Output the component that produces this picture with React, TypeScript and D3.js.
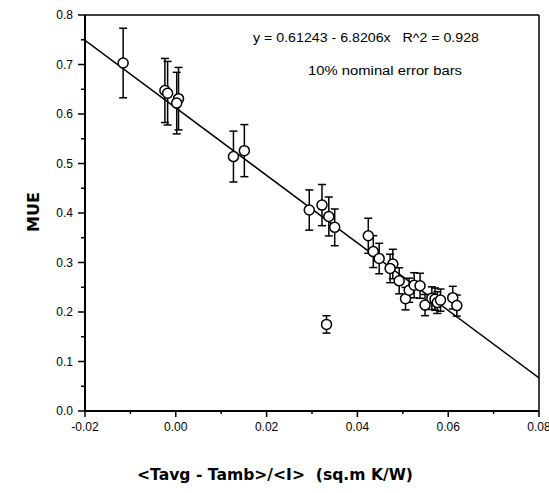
import React from "react";
import * as d3 from "d3";

const xValues = [
  -0.0116, -0.0024, -0.0018, 0.0006, 0.0002, 0.0127, 0.0151, 0.0294, 0.0322, 0.0337,
  0.035, 0.0332, 0.0424, 0.0435, 0.0448, 0.0478, 0.0472, 0.0492, 0.0506, 0.0514,
  0.0525, 0.0538, 0.0549, 0.0564, 0.0571, 0.0576, 0.0583, 0.061, 0.0619,
];
const yValues = [
  0.703, 0.6475, 0.642, 0.631, 0.622, 0.514, 0.526, 0.406, 0.416, 0.393,
  0.371, 0.175, 0.354, 0.322, 0.308, 0.297, 0.288, 0.263, 0.227, 0.244,
  0.254, 0.253, 0.214, 0.228, 0.226, 0.219, 0.224, 0.229, 0.213,
];
const xTicks = [-0.02, 0.0, 0.02, 0.04, 0.06, 0.08];
const yTicks = [0.0, 0.1, 0.2, 0.3, 0.4, 0.5, 0.6, 0.7, 0.8];
const fitIntercept = 0.61243;
const fitSlope = -6.8206;
const errorFraction = 0.1;

const W = 549;
const H = 493;
const left = 85;
const right = 539;
const top = 15;
const bottom = 411;

export default function App() {
  const x = d3.scaleLinear().domain([-0.02, 0.08]).range([left, right]);
  const y = d3.scaleLinear().domain([0, 0.8]).range([bottom, top]);
  const font = "'Liberation Sans', Arial, sans-serif";
  const boldFont = "'DejaVu Sans', 'Liberation Sans', sans-serif";

  const xMinor = d3.range(-0.01, 0.08, 0.02);
  const yMinor = d3.range(0.05, 0.8, 0.1);

  const fit = (v: number) => fitIntercept + fitSlope * v;
  const line = d3
    .line<number>()
    .x((v) => x(v))
    .y((v) => y(fit(v)));

  return (
    <svg
      width={W}
      height={H}
      style={{ position: "absolute", left: 0, top: 0, background: "#fff" }}
      fontFamily={font}
    >
      <defs>
        <clipPath id="plotClip">
          <rect x={left} y={top} width={right - left} height={bottom - top} />
        </clipPath>
      </defs>
      <rect x={0} y={0} width={W} height={H} fill="#fff" />

      {/* frame */}
      <line x1={left} x2={right} y1={top} y2={top} stroke="#000" strokeWidth={1.5} />
      <line x1={right} x2={right} y1={top} y2={bottom} stroke="#000" strokeWidth={1.5} />

      {/* fit line */}
      <path
        d={line([-0.02, 0.08]) || ""}
        fill="none"
        stroke="#000"
        strokeWidth={1.5}
        clipPath="url(#plotClip)"
      />

      {/* error bars & points */}
      {xValues.map((xv, i) => {
        const yv = yValues[i];
        const cx = x(xv);
        const y1 = y(yv * (1 + errorFraction));
        const y0 = y(yv * (1 - errorFraction));
        return (
          <g key={"e" + i} stroke="#000" strokeWidth={1.5}>
            <line x1={cx} x2={cx} y1={y1} y2={y0} />
            <line x1={cx - 4} x2={cx + 4} y1={y1} y2={y1} />
            <line x1={cx - 4} x2={cx + 4} y1={y0} y2={y0} />
          </g>
        );
      })}
      {xValues.map((xv, i) => (
        <circle
          key={"c" + i}
          cx={x(xv)}
          cy={y(yValues[i])}
          r={5}
          fill="#fff"
          stroke="#000"
          strokeWidth={1.5}
        />
      ))}

      {/* axes */}
      <line x1={left} x2={right} y1={bottom} y2={bottom} stroke="#000" strokeWidth={2} />
      <line x1={left} x2={left} y1={top} y2={bottom} stroke="#000" strokeWidth={2} />

      {xTicks.map((t) => (
        <g key={"xt" + t}>
          <line x1={x(t)} x2={x(t)} y1={bottom} y2={bottom + 6} stroke="#000" strokeWidth={1.5} />
          <text x={x(t)} y={bottom + 20} fontSize={12} textAnchor="middle" fill="#000">
            {t.toFixed(2)}
          </text>
        </g>
      ))}
      {xMinor.map((t) => (
        <line key={"xm" + t} x1={x(t)} x2={x(t)} y1={bottom} y2={bottom + 3} stroke="#000" strokeWidth={1.5} />
      ))}
      {yTicks.map((t) => (
        <g key={"yt" + t}>
          <line x1={left - 7} x2={left} y1={y(t)} y2={y(t)} stroke="#000" strokeWidth={1.5} />
          <text x={left - 12} y={y(t) + 4} fontSize={12} textAnchor="end" fill="#000">
            {t.toFixed(1)}
          </text>
        </g>
      ))}
      {yMinor.map((t) => (
        <line key={"ym" + t} x1={left - 4} x2={left} y1={y(t)} y2={y(t)} stroke="#000" strokeWidth={1.5} />
      ))}

      {/* annotations */}
      <text
        x={366}
        y={42}
        fontSize={12}
        textAnchor="middle"
        fill="#000"
        textLength={226}
        lengthAdjust="spacingAndGlyphs"
        style={{ whiteSpace: "pre" }}
      >
        {"y = 0.61243 - 6.8206x   R^2 = 0.928"}
      </text>
      <text
        x={385}
        y={75}
        fontSize={12}
        textAnchor="middle"
        fill="#000"
        textLength={154}
        lengthAdjust="spacingAndGlyphs"
      >
        10% nominal error bars
      </text>

      {/* axis titles */}
      <text
        x={275}
        y={480}
        fontSize={15}
        fontWeight="bold"
        fontFamily={boldFont}
        textAnchor="middle"
        fill="#000"
        textLength={276}
        lengthAdjust="spacingAndGlyphs"
        style={{ whiteSpace: "pre" }}
      >
        {"<Tavg - Tamb>/<I>  (sq.m K/W)"}
      </text>
      <text
        transform="translate(39,212) rotate(-90)"
        fontSize={16}
        fontWeight="bold"
        fontFamily={boldFont}
        textAnchor="middle"
        fill="#000"
      >
        MUE
      </text>
    </svg>
  );
}
